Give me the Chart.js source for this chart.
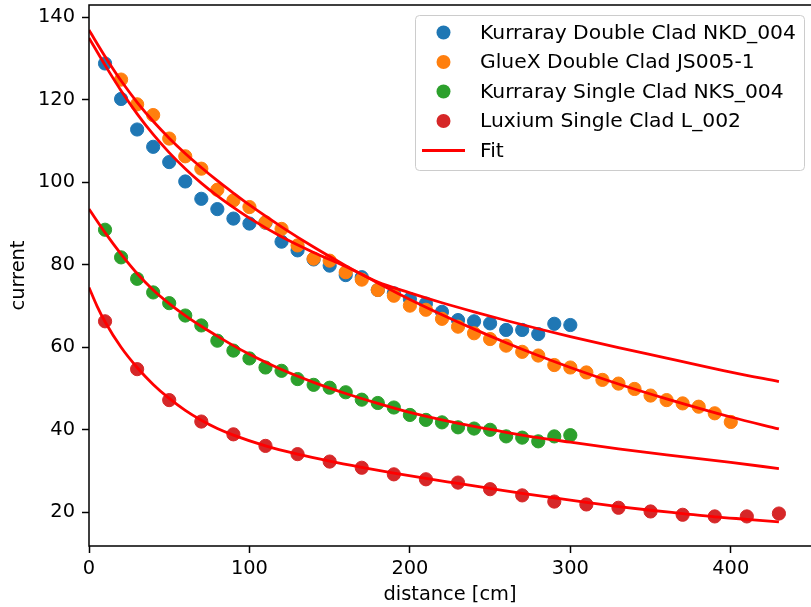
<!DOCTYPE html>
<html>
<head>
<meta charset="utf-8">
<script src="https://cdn.jsdelivr.net/npm/chart.js@4.4.1/dist/chart.umd.min.js"></script>
<style>
  html, body { margin: 0; padding: 0; background: #ffffff; }
  canvas { display: block; }
</style>
</head>
<body>
<canvas id="chart" width="811" height="607"></canvas>
<script>
// Axis ticks
const xTicks = [0, 100, 200, 300, 400];
const yTicks = [20, 40, 60, 80, 100, 120, 140];

// Measured current vs. distance along the fibre
const nkdDist = [10, 20, 30, 40, 50, 60, 70, 80, 90, 100, 110, 120, 130, 140, 150, 160, 170, 180, 190, 200, 210, 220, 230, 240, 250, 260, 270, 280, 290, 300];
const nkdCurrent = [128.8, 120.2, 112.8, 108.6, 104.9, 100.2, 96.0, 93.5, 91.2, 90.0, 90.2, 85.6, 83.5, 81.3, 79.8, 77.5, 77.0, 73.9, 73.1, 71.7, 70.6, 68.6, 66.6, 66.3, 65.8, 64.2, 64.2, 63.2, 65.7, 65.4];

const js005Dist = [20, 30, 40, 50, 60, 70, 80, 90, 100, 110, 120, 130, 140, 150, 160, 170, 180, 190, 200, 210, 220, 230, 240, 250, 260, 270, 280, 290, 300, 310, 320, 330, 340, 350, 360, 370, 380, 390, 400];
const js005Current = [124.9, 118.9, 116.3, 110.6, 106.3, 103.3, 98.2, 95.6, 94.0, 90.3, 88.7, 84.7, 81.5, 81.0, 78.2, 76.4, 73.9, 72.5, 70.1, 69.1, 66.9, 65.0, 63.4, 62.0, 60.4, 58.9, 58.0, 55.7, 55.1, 53.9, 52.1, 51.2, 49.9, 48.3, 47.2, 46.4, 45.6, 44.0, 41.9];

const nksDist = [10, 20, 30, 40, 50, 60, 70, 80, 90, 100, 110, 120, 130, 140, 150, 160, 170, 180, 190, 200, 210, 220, 230, 240, 250, 260, 270, 280, 290, 300];
const nksCurrent = [88.5, 81.8, 76.6, 73.3, 70.7, 67.7, 65.3, 61.6, 59.2, 57.3, 55.1, 54.3, 52.3, 50.9, 50.2, 49.1, 47.3, 46.5, 45.4, 43.6, 42.4, 41.8, 40.6, 40.3, 40.0, 38.4, 38.1, 37.2, 38.4, 38.7];

const l002Dist = [10, 30, 50, 70, 90, 110, 130, 150, 170, 190, 210, 230, 250, 270, 290, 310, 330, 350, 370, 390, 410, 430];
const l002Current = [66.3, 54.7, 47.2, 42.0, 38.9, 36.1, 34.1, 32.3, 30.8, 29.2, 28.0, 27.2, 25.6, 24.1, 22.6, 21.9, 21.1, 20.2, 19.4, 19.0, 19.0, 19.7];

// Fitted attenuation curves, sampled along the fibre
const fitDist = [0, 10, 20, 30, 40, 50, 60, 70, 80, 90, 100, 120, 140, 160, 180, 200, 220, 240, 260, 280, 300, 330, 360, 400, 430];
const nkdFit = [135.0, 128.4, 122.2, 116.6, 111.6, 107.2, 103.3, 99.8, 96.7, 93.9, 91.3, 86.8, 83.0, 79.6, 75.8, 73.2, 70.8, 68.6, 66.5, 64.5, 62.6, 59.9, 57.4, 54.0, 51.7];
const js005Fit = [136.9, 130.5, 124.6, 119.4, 114.8, 110.7, 107.0, 103.6, 100.4, 97.4, 94.5, 89.2, 84.3, 79.8, 75.6, 71.6, 67.9, 64.4, 61.1, 58.0, 55.1, 51.1, 47.5, 43.1, 40.2];
const nksFit = [93.5, 87.8, 82.6, 77.9, 73.9, 70.6, 67.7, 65.1, 62.7, 60.4, 58.3, 54.6, 51.5, 48.8, 46.4, 44.2, 42.4, 40.8, 39.4, 38.1, 37.0, 35.4, 33.9, 32.1, 30.6];
const l002FitDist = [0, 5, 10, 20, 30, 40, 50, 60, 70, 80, 90, 110, 130, 150, 170, 190, 210, 230, 250, 270, 290, 310, 330, 350, 370, 390, 410, 430];
const l002Fit = [74.5, 70.0, 66.2, 60.0, 55.1, 51.0, 47.6, 44.7, 42.3, 40.3, 38.7, 36.1, 34.1, 32.4, 30.9, 29.5, 28.2, 27.0, 25.8, 24.6, 23.5, 22.4, 21.4, 20.5, 19.7, 18.9, 18.3, 17.7];

const seriesNames = ['Kurraray Double Clad NKD_004', 'GlueX Double Clad JS005-1', 'Kurraray Single Clad NKS_004', 'Luxium Single Clad L_002'];
const seriesColors = ['#1f77b4', '#ff7f0e', '#2ca02c', '#d62728'];
const fitName = 'Fit';
const fitColor = '#ff0000';

const FONT = '"DejaVu Sans", "Liberation Sans", sans-serif';
const toPoints = (xs, ys) => xs.map((x, i) => ({ x: x, y: ys[i] }));

function scatterSet(idx, xs, ys, order) {
  return {
    type: 'scatter',
    label: seriesNames[idx],
    data: toPoints(xs, ys),
    backgroundColor: seriesColors[idx],
    borderColor: seriesColors[idx],
    borderWidth: 1,
    pointRadius: 6.6,
    pointHoverRadius: 6.6,
    order: order
  };
}
function fitSet(xs, ys) {
  return {
    type: 'line',
    label: fitName,
    data: toPoints(xs, ys),
    borderColor: fitColor,
    backgroundColor: fitColor,
    borderWidth: 2.8,
    pointRadius: 0,
    fill: false,
    cubicInterpolationMode: 'monotone',
    order: 0
  };
}

// Keep the plotting area flush with the fixed axis boxes
function noScalePadding(scale) {
  scale.paddingTop = 0;
  scale.paddingBottom = 0;
  scale.paddingLeft = 0;
  scale.paddingRight = 0;
}

// Spines: left, bottom and top edges of the plotting area
const spines = {
  id: 'spines',
  afterDatasetsDraw(chart) {
    const { ctx, chartArea: a } = chart;
    ctx.save();
    ctx.strokeStyle = '#000000';
    ctx.lineWidth = 1.5;
    ctx.beginPath();
    ctx.moveTo(chart.width, a.top);
    ctx.lineTo(a.left, a.top);
    ctx.lineTo(a.left, a.bottom);
    ctx.lineTo(chart.width, a.bottom);
    ctx.stroke();
    ctx.restore();
  }
};

// Legend box inside the plotting area
const innerLegend = {
  id: 'innerLegend',
  afterDraw(chart) {
    const { ctx } = chart;
    const box = { x: 415, y: 15, w: 389, h: 155, r: 4 };
    ctx.save();
    ctx.beginPath();
    ctx.roundRect(box.x + 0.5, box.y + 0.5, box.w, box.h, box.r);
    ctx.fillStyle = 'rgba(255,255,255,0.8)';
    ctx.fill();
    ctx.strokeStyle = '#cccccc';
    ctx.lineWidth = 1;
    ctx.stroke();

    const rowY0 = 32.5, rowStep = 29.5;
    ctx.font = '20.3px ' + FONT;
    ctx.textBaseline = 'middle';
    ctx.textAlign = 'left';
    seriesNames.forEach((name, i) => {
      const y = rowY0 + i * rowStep;
      ctx.beginPath();
      ctx.arc(443.5, y, 7, 0, Math.PI * 2);
      ctx.fillStyle = seriesColors[i];
      ctx.fill();
      ctx.fillStyle = '#000000';
      ctx.fillText(name, 480, y + 1);
    });
    const fy = rowY0 + 4 * rowStep;
    ctx.beginPath();
    ctx.moveTo(422, fy);
    ctx.lineTo(465, fy);
    ctx.strokeStyle = fitColor;
    ctx.lineWidth = 2.8;
    ctx.stroke();
    ctx.fillStyle = '#000000';
    ctx.fillText(fitName, 480, fy + 1);
    ctx.restore();
  }
};

new Chart(document.getElementById('chart'), {
  type: 'scatter',
  data: {
    datasets: [
      fitSet(fitDist, nkdFit),
      fitSet(fitDist, js005Fit),
      fitSet(fitDist, nksFit),
      fitSet(l002FitDist, l002Fit),
      scatterSet(3, l002Dist, l002Current, 1),
      scatterSet(2, nksDist, nksCurrent, 2),
      scatterSet(1, js005Dist, js005Current, 3),
      scatterSet(0, nkdDist, nkdCurrent, 4)
    ]
  },
  options: {
    responsive: false,
    animation: false,
    devicePixelRatio: 1,
    layout: { autoPadding: false, padding: { top: 5, right: 0, left: 0, bottom: 0 } },
    plugins: {
      legend: { display: false },
      tooltip: { enabled: false }
    },
    scales: {
      x: {
        type: 'linear',
        min: 0,
        max: 450,
        afterBuildTicks(scale) { scale.ticks = xTicks.map(v => ({ value: v })); },
        afterFit(scale) { scale.height = 61; noScalePadding(scale); },
        grid: { drawOnChartArea: false, drawTicks: true, tickLength: 7, tickWidth: 1.5, tickColor: '#000000' },
        border: { display: false },
        ticks: { color: '#000000', padding: 4, maxRotation: 0, font: { family: FONT, size: 19.4 } },
        title: { display: true, text: 'distance [cm]', color: '#000000', padding: { top: 0, bottom: 0 }, font: { family: FONT, size: 19.4 } }
      },
      y: {
        type: 'linear',
        min: 11.83,
        max: 142.98,
        afterBuildTicks(scale) { scale.ticks = yTicks.map(v => ({ value: v })); },
        afterFit(scale) { scale.width = 89; noScalePadding(scale); },
        grid: { drawOnChartArea: false, drawTicks: true, tickLength: 7, tickWidth: 1.5, tickColor: '#000000' },
        border: { display: false },
        ticks: { color: '#000000', padding: 7, font: { family: FONT, size: 19.4 } },
        title: { display: true, text: 'current', color: '#000000', padding: { top: 7, bottom: 0 }, font: { family: FONT, size: 19.4 } }
      }
    }
  },
  plugins: [spines, innerLegend]
});
</script>
</body>
</html>
